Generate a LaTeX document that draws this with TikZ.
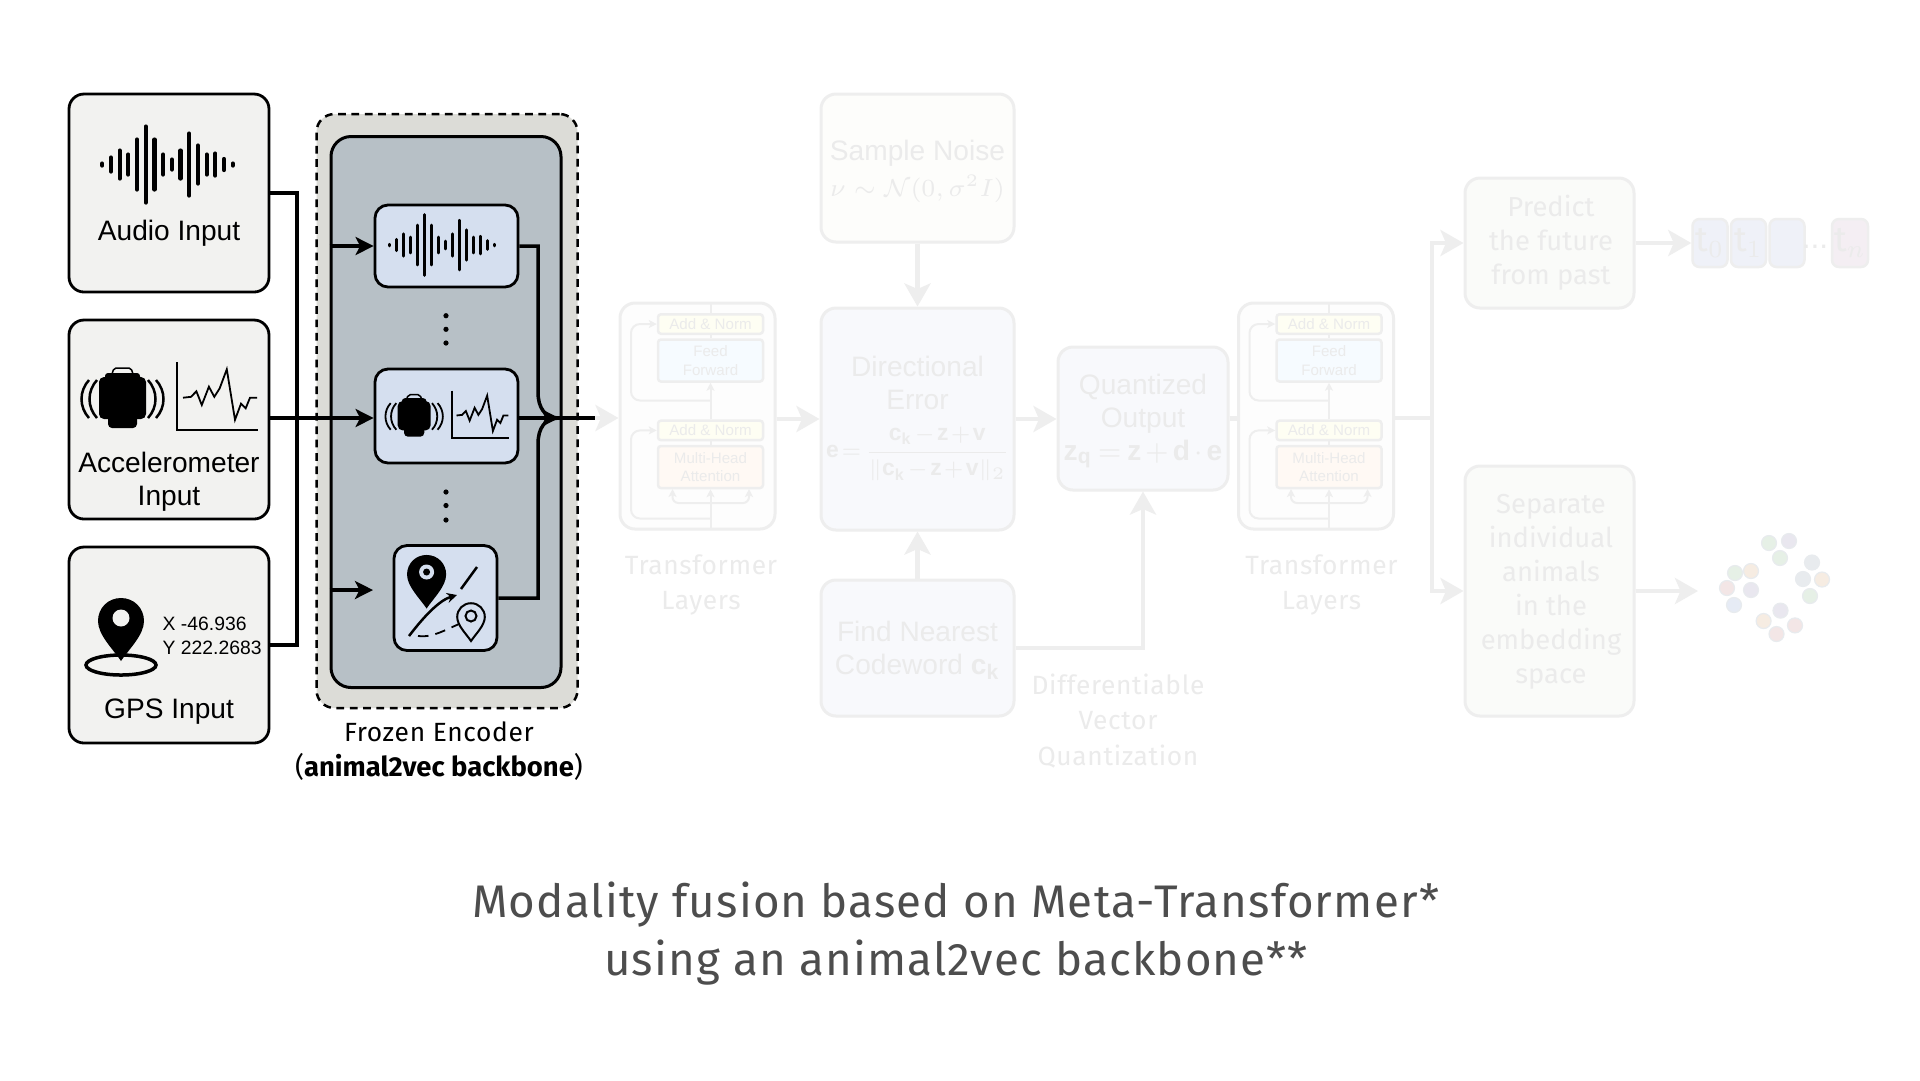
\documentclass[tikz,border=0pt]{standalone}
\usepackage{amsmath}
\usepackage{fontspec}
\usetikzlibrary{arrows.meta,positioning,calc}
\setmainfont{Liberation Sans}
\newfontfamily\firafont{Fira Sans}
\newfontfamily\firawide[LetterSpace=2.5]{Fira Sans}
\definecolor{inputfill}{HTML}{F2F2F0}
\definecolor{framefill}{HTML}{DCDCD7}
\definecolor{innerfill}{HTML}{B7C0C6}
\definecolor{modfill}{HTML}{D5DFEF}
\definecolor{captiongrey}{HTML}{4D4D4D}
\definecolor{ghostline}{HTML}{EEEEEE}
\definecolor{ghosttext}{HTML}{EBEBEB}
\definecolor{ghostsand}{HTML}{FDFDFB}
\definecolor{ghostblue}{HTML}{F8F9FC}
\definecolor{ghostgreen}{HTML}{FAFBF9}
\definecolor{ghostlayer}{HTML}{FDFDFD}
\definecolor{ghostyellow}{HTML}{FEFEF3}
\definecolor{ghostsky}{HTML}{F6FBFF}
\definecolor{ghostpeach}{HTML}{FFF9F4}
\definecolor{tokblue}{HTML}{EFF1F8}
\definecolor{tokpink}{HTML}{F4EEF3}
\definecolor{ptgreen}{HTML}{E6F0E6}
\definecolor{ptpurple}{HTML}{E9E7EF}
\definecolor{ptorange}{HTML}{F6ECE2}
\definecolor{ptred}{HTML}{F3E6E6}
\definecolor{ptblue}{HTML}{E6EBF5}
\definecolor{ptgrey}{HTML}{E8EBEE}
\tikzset{
  sz/.style 2 args={minimum width=#1*0.1mm, minimum height=#2*0.1mm, inner sep=0pt},
  inputbox/.style={rectangle, rounded corners=1.5mm, draw=black, line width=0.28mm, fill=inputfill},
  modbox/.style={rectangle, rounded corners=1.3mm, draw=black, line width=0.28mm, fill=modfill},
  ghostbox/.style={rectangle, rounded corners=1.5mm, draw=ghostline, line width=0.3mm, fill=#1},
  ghostsmall/.style={rectangle, rounded corners=0.3mm, draw=ghostline, line width=0.25mm, fill=#1,
                     align=center, text=ghosttext, font=\fontsize{4.3}{5.2}\selectfont},
  ghostlabel/.style={align=center, text=ghosttext, inner sep=0pt, font=\fontsize{7.5}{10}\selectfont\firawide},
  ghostfira/.style={align=center, text=ghosttext, inner sep=0pt, font=\fontsize{7.8}{9.7}\selectfont\firafont},
  ghostsans/.style={align=center, text=ghosttext, inner sep=0pt, font=\fontsize{8}{9.3}\selectfont},
  ghosttok/.style={rectangle, rounded corners=0.7mm, draw=ghostline, line width=0.25mm, fill=#1, sz={35}{48},
                   text=ghosttext, font=\fontsize{10}{10}\selectfont\firafont},
  inlabel/.style={align=center, inner sep=0pt, font=\fontsize{8}{9.3}\selectfont},
  wire/.style={line width=0.35mm, draw=black},
  wirearr/.style={-{Stealth[length=1.8mm,width=1.8mm,inset=0.45mm]}, line width=0.35mm, draw=black},
  ghostwire/.style={line width=0.45mm, draw=ghostline},
  ghostarr/.style={-{Stealth[length=2.3mm,width=2.6mm,inset=0.55mm]}, line width=0.45mm, draw=ghostline},
  ghostthin/.style={-{Stealth[length=0.8mm,width=0.8mm,inset=0.2mm]}, line width=0.2mm, draw=ghostline},
  pt/.style={circle, draw=ptgrey, line width=0.12mm, fill=#1, minimum size=1.5mm, inner sep=0pt},
  wave/.pic={
    \foreach \n/\h in {0/1,1/7,2/14,3/10,4/25,5/38,6/25,7/10,8/5,9/14,10/31,11/19,12/10,13/11,14/5.5,15/1}
      \draw[line cap=round] ({(\n-7.5)*8.7},-\h) -- ({(\n-7.5)*8.7},\h);
  },
  collar/.pic={
    \fill[rounded corners=0.5mm] (-69,-20) rectangle (-22,22);
    \fill[rounded corners=0.3mm] (-63,-24) rectangle (-28,-15);
    \fill[rounded corners=0.4mm] (-60,15) rectangle (-31,31);
    \draw[line width=0.15mm, rounded corners=0.2mm] (-56,-23) -- (-54,-29) -- (-37,-29) -- (-35,-23);
    \foreach \q in {-79,-71} \draw[pic actions] (\q,-17) .. controls ({\q-10},-6) and ({\q-10},10) .. (\q,21);
    \foreach \q in {-12,-20} \draw[pic actions] (\q,-17) .. controls ({\q+10},-6) and ({\q+10},10) .. (\q,21);
    \draw[pic actions] (9,-35) -- (9,33) -- (90,33);
    \draw[line width=0.18mm] (15,0.7) -- (23,-0.2) -- (28.4,-5.7) -- (33.8,8) -- (40.9,-10.3) -- (46.3,-0.2)
      -- (51.6,-8.5) -- (58.8,-27.7) -- (67,22.8) -- (73,6.7) -- (77.7,11.3) -- (82,0.7) -- (89,0.7);
  },
  pinshape/.pic={
    \path[pic actions] (-23,0) .. controls (-23,-13) and (-13,-23) .. (0,-23)
      .. controls (13,-23) and (23,-13) .. (23,0)
      .. controls (23,14) and (8,28) .. (0,40)
      .. controls (-8,28) and (-23,14) .. (-23,0) -- cycle;
  },
  translayer/.pic={
    \node[ghostbox=ghostlayer, sz={155}{226}] (-layer) at (0,0) {};
    \coordinate (-top) at (13,-113);
    \coordinate (-bot) at (13,113);
    \coordinate (-j1) at (13,-15.5);
    \coordinate (-j2) at (13,102.5);
    \coordinate (-j3) at (13,87);
    \node[ghostsmall=ghostyellow, sz={105}{19.5}] (-addtop) at (13,-92) {Add \& Norm};
    \node[ghostsmall=ghostsky, sz={105}{42}] (-feed) at (13,-55.5) {Feed\\Forward};
    \node[ghostsmall=ghostyellow, sz={105}{19.5}] (-addbot) at (13,14.4) {Add \& Norm};
    \node[ghostsmall=ghostpeach, sz={105}{42}] (-multi) at (13,51) {Multi-Head\\Attention};
    \draw[ghostline, line width=0.2mm] (-top) -- (-addtop.north);
    \draw[ghostline, line width=0.2mm] (-addtop.south) -- (-feed.north);
    \draw[ghostthin] (-addbot.north) -- (-feed.south);
    \draw[ghostline, line width=0.2mm] (-addbot.south) -- (-multi.north);
    \draw[ghostthin] (-bot) -- (-multi.south);
    \draw[ghostthin, rounded corners=0.9mm] (-j1) -- (-66.5,-15.5) -- (-66.5,-92) -- (-addtop.west);
    \draw[ghostthin, rounded corners=0.9mm] (-j2) -- (-66.5,102.5) -- (-66.5,14.4) -- (-addbot.west);
    \draw[ghostthin, rounded corners=0.6mm] (-j3) -- (-25,87) -- (-25,73);
    \draw[ghostthin, rounded corners=0.6mm] (-j3) -- (51.5,87) -- (51.5,73);
  },
}

\begin{document}
\begin{tikzpicture}[x=0.1mm, y=-0.1mm, node distance=0.1mm]
  \useasboundingbox[fill=white] (0,0) rectangle (1920,1080);

  % greyed out part
  \pic (ta) at (697.5,416) {translayer};
  \pic (tb) at (1316,416) {translayer};
  \node[ghostbox=ghostsand, sz={193}{148}] (sample) at (917.5,168) {};
  \node[ghostbox=ghostblue, sz={193}{222}] (dir) at (917.5,419) {};
  \node[ghostbox=ghostblue, sz={193}{136}] (find) at (917.5,648) {};
  \node[ghostbox=ghostblue, sz={170}{143}] (quant) at (1143,418.5) {};
  \node[ghostbox=ghostgreen, sz={169}{130}] (predict) at (1549.5,243) {};
  \node[ghostbox=ghostgreen, sz={169}{250}] (separate) at (1549.5,591) {};
  \node[ghostsans] (sampletext) at (917.5,153) {Sample Noise};
  \node[ghostsans, font=\fontsize{7.1}{9}\selectfont] (sampleform) at (917.5,189) {$\nu\sim\mathcal{N}(0,\sigma^2 I)$};
  \node[ghostsans] (dirtext) at (917.5,383) {Directional\\Error};
  \node[ghostsans, font=\fontsize{6.5}{8}\selectfont] (dirform) at (918,454)
    {$\medmuskip=1.5mu\thickmuskip=2mu\textbf{e}=\dfrac{\textbf{c}_{\textbf{k}}-\textbf{z}+\textbf{v}}{\|\textbf{c}_{\textbf{k}}-\textbf{z}+\textbf{v}\|_2}$};
  \node[ghostsans] (findtext) at (917.5,650.5) {Find Nearest\\Codeword $\textbf{c}_{\textbf{k}}$};
  \node[ghostsans] (quanttext) at (1143,404) {Quantized\\Output};
  \node[ghostsans] (quantform) at (1143,454) {$\medmuskip=2.5mu\thickmuskip=3.5mu\textbf{z}_{\textbf{q}}=\textbf{z}+\textbf{d}\cdot\textbf{e}$};
  \node[ghostfira] (predicttext) at (1551,242.5) {Predict\\the future\\from past};
  \node[ghostfira] (separatetext) at (1551,592) {Separate\\individual\\animals\\in the\\embedding\\space};
  \node[ghostlabel] (talabel) at (701,585) {Transformer\\Layers};
  \node[ghostlabel] (tblabel) at (1321.5,585) {Transformer\\Layers};
  \node[ghostlabel] (dvq) at (1118,721) {Differentiable\\Vector\\Quantization};

  \node[ghosttok=tokblue] (t0) at (1710,243) {t$_0$};
  \node[ghosttok=tokblue, right=of t0] (t1) {t$_1$};
  \node[ghosttok=tokblue, right=of t1] (t2) {};
  \node[ghosttok=tokpink, sz={36}{48}] (tn) at (1850,243) {t$_n$};
  \node[text=ghosttext, inner sep=0pt, font=\fontsize{9}{9}\selectfont] (tdots) at (1815,247) {...};

  \foreach \px/\py/\col in {1769/543/ptgreen,1789/541/ptpurple,1780/558/ptgreen,1812/562.5/ptgrey,
      1803/579/ptgrey,1822/579.5/ptorange,1810/596/ptgreen,1735/573/ptgreen,1751/571/ptorange,
      1727/588/ptred,1751/590/ptpurple,1734/605/ptblue,1780.5/610.6/ptpurple,1763.6/621/ptorange,
      1776.5/634/ptred,1795/625.4/ptred}
    \node[pt=\col] at (\px,\py) {};

  \coordinate (merge) at (559,418);
  \coordinate (out) at (595,418);
  \coordinate (busm) at (1432,418);
  \coordinate (clusterin) at (1698,591);
  \draw[ghostarr] (merge) -- (ta-layer.west |- merge);
  \draw[ghostarr] (ta-layer.east |- dir.west) -- (dir.west);
  \draw[ghostarr] (sample) -- (dir);
  \draw[ghostarr] (find) -- (dir);
  \draw[ghostarr] (dir.east) -- (dir.east -| quant.west);
  \draw[ghostarr] (find.east) -| (quant.south);
  \draw[ghostwire] (quant.east) -- (quant.east -| tb-layer.west);
  \draw[ghostwire] (tb-layer.east |- busm) -- (busm);
  \draw[ghostarr] (busm) |- (predict.west);
  \draw[ghostarr] (busm) |- (separate.west);
  \draw[ghostarr] (predict.east) -- (t0.west);
  \draw[ghostarr] (separate.east) -- (clusterin);

  % inputs
  \node[inputbox, sz={200}{198}] (audio) at (169,193) {};
  \node[inputbox, sz={200}{199}] (accel) at (169,419.5) {};
  \node[inputbox, sz={200}{196}] (gps) at (169,645) {};
  \pic[line width=0.42mm] at (167.5,164.5) {wave};
  \node[inlabel] (audiolabel) at (169,233.5) {Audio Input};
  \pic[line width=0.25mm] at (168,397) {collar};
  \node[inlabel] (accellabel) at (169,481.5) {Accelerometer\\Input};
  \draw[line width=0.35mm] (121,665) ellipse [x radius=35, y radius=10];
  \pic[fill=black] at (121,621) {pinshape};
  \fill[inputfill] (121,618) circle [radius=8.5];
  \node[inlabel, anchor=west, align=left, font=\fontsize{5.5}{7}\selectfont] (gpstext) at (162,636) {X -46.936\\Y 222.2683};
  \node[inlabel] (gpslabel) at (169,711.5) {GPS Input};

  % encoder
  \node[rectangle, rounded corners=1.8mm, draw=black, line width=0.25mm, dash pattern=on 2.2pt off 1.6pt, fill=framefill, sz={261}{594}] (frame) at (447,411) {};
  \node[rectangle, rounded corners=2mm, draw=black, line width=0.3mm, fill=innerfill, sz={230}{551}] (inner) at (446,412) {};
  \node[modbox, sz={143}{82}] (mod1) at (446.5,246) {};
  \node[modbox, sz={143}{94}] (mod2) at (446.5,416) {};
  \node[modbox, sz={103}{105}] (mod3) at (445.5,598) {};
  \pic[line width=0.29mm, scale=0.8] at (442,245) {wave};
  \pic[line width=0.18mm, scale=0.7] at (446,415) {collar};
  \foreach \dy in {315.7,329.3,343,492,505.5,520}
    \fill (446,\dy) circle [radius=2.6];
  \pic[fill=black, scale=0.85] at (426.6,574.5) {pinshape};
  \fill[modfill] (426.6,572) circle [radius=7.5];
  \fill (426.6,572) circle [radius=3.5];
  \pic[fill=modfill, draw=black, line width=0.2mm, scale=0.6] at (471,617) {pinshape};
  \draw[line width=0.2mm] (471,616) circle [radius=5.5];
  \draw[-{Stealth[length=1mm,width=1mm]}, line width=0.25mm] (409,636) .. controls (425,615) and (440,600) .. (457,595);
  \draw[line width=0.25mm] (461,589) -- (477,567);
  \draw[densely dashed, line width=0.18mm] (418,636) .. controls (432,638) and (445,630) .. (459,624);
  \node[inner sep=0pt, align=center, font=\fontsize{7.5}{9}\selectfont\firawide] (frozen) at (439,732) {Frozen Encoder};
  \node[inner sep=0pt, align=center, font=\fontsize{7.8}{9}\selectfont\firafont] (frozenb) at (439,767) {(\textbf{animal2vec backbone})};

  \coordinate (ctr) at (297,418);
  \coordinate (mod3in) at (373,590);
  \coordinate (busr1) at (538,392);
  \coordinate (busr3) at (538,444);
  \draw[wire] (audio.east) -| (ctr);
  \draw[wire] (gps.east) -| (ctr);
  \draw[wirearr] (accel.east |- ctr) -- (ctr -| mod2.west);
  \draw[wirearr] (inner.west |- mod1) -- (mod1.west);
  \draw[wirearr] (inner.west |- mod3in) -- (mod3in);
  \draw[wire] (mod1.east) -| (busr1) .. controls (538,408) and (545,418) .. (merge);
  \draw[wire] (mod3.east) -| (busr3) .. controls (538,428) and (545,418) .. (merge);
  \draw[wirearr] (mod2.east |- merge) -- (merge);
  \draw[wire] (merge) -- (out);

  \node[inner sep=0pt, align=center, text=captiongrey, font=\fontsize{13}{16.5}\selectfont\firawide] (caption) at (956,934)
    {Modality fusion based on Meta-Transformer*\\using an animal2vec backbone**};
\end{tikzpicture}
\end{document}
